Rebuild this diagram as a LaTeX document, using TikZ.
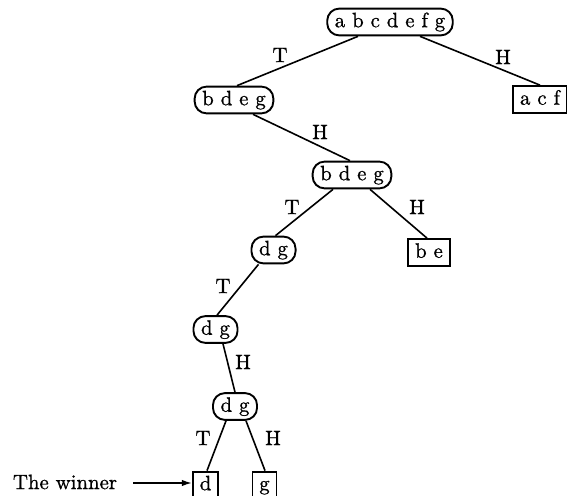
\documentclass[tikz,border=0pt]{standalone}
\usepackage{fontspec}
\setmainfont{Latin Modern Roman}[FakeBold=0.9]
\usetikzlibrary{calc,arrows.meta}
\begin{document}
\begin{tikzpicture}[x=0.5pt,y=-0.5pt,
  font=\fontsize{10.4}{12}\selectfont,
  setnode/.style={draw, rounded corners=6pt, line width=0.95pt,
    inner xsep=3.8pt, inner ysep=2pt, text height=7.3pt, text depth=2.1pt},
  leafnode/.style={draw, line width=0.95pt, minimum width=11.5pt,
    inner xsep=3.4pt, inner ysep=2pt, text height=7.3pt, text depth=2.1pt},
  branch/.style={line width=0.8pt},
  coin/.style={inner sep=0pt}]
\useasboundingbox (0,0) rectangle (567,496);

% the sets of players, round by round
\node[setnode] (root) at (390,22) {a b c d e f g};
\node[setnode] (l1) at (234,100) {b d e g};
\node[leafnode] (acf) at (540,99.5) {a c f};
\node[setnode] (l2) at (352,175) {b d e g};
\node[setnode] (l3) at (273.5,250) {d g};
\node[leafnode] (be) at (429,252.5) {b e};
\node[setnode] (l4) at (215.5,329.5) {d g};
\node[setnode] (l5) at (235,406.5) {d g};
\node[leafnode] (d) at (205.5,485) {d};
\node[leafnode] (g) at (264.5,485) {g};
\node (win) at (65,482) {The winner};
\coordinate (winarrow) at (133,483);

% branches
\draw[branch] ($(root.south)+(-32,0)$) -- ($(l1.north)+(3,0)$);
\draw[branch] ($(root.south)+(30,0)$) -- (acf.north);
\draw[branch] ($(l1.south)+(19,0)$) -- ($(l2.north)+(-2,0)$);
\draw[branch] ($(l2.south)+(-19,0)$) -- ($(l3.north)+(2,0)$);
\draw[branch] ($(l2.south)+(18,0)$) -- ($(be.north)+(-2,0)$);
\draw[branch] ($(l3.south)+(-15,0)$) -- ($(l4.north)+(1.5,0)$);
\draw[branch] ($(l4.south)+(7.5,0)$) -- (l5.north);
\draw[branch] ($(l5.south)+(-9,0)$) -- ($(d.north)+(1.5,0)$);
\draw[branch] ($(l5.south)+(11,0)$) -- ($(g.north)+(0.5,0)$);
\draw[branch, -{Latex[length=5pt,width=3.2pt]}] (winarrow) -- (d.west |- winarrow);

% coin outcomes
\node[coin] at (280,55) {T};
\node[coin] at (503,57) {H};
\node[coin] at (320,132) {H};
\node[coin] at (292,207) {T};
\node[coin] at (417,207) {H};
\node[coin] at (223,286) {T};
\node[coin] at (243,362) {H};
\node[coin] at (203,438) {T};
\node[coin] at (273,438) {H};
\end{tikzpicture}
\end{document}
